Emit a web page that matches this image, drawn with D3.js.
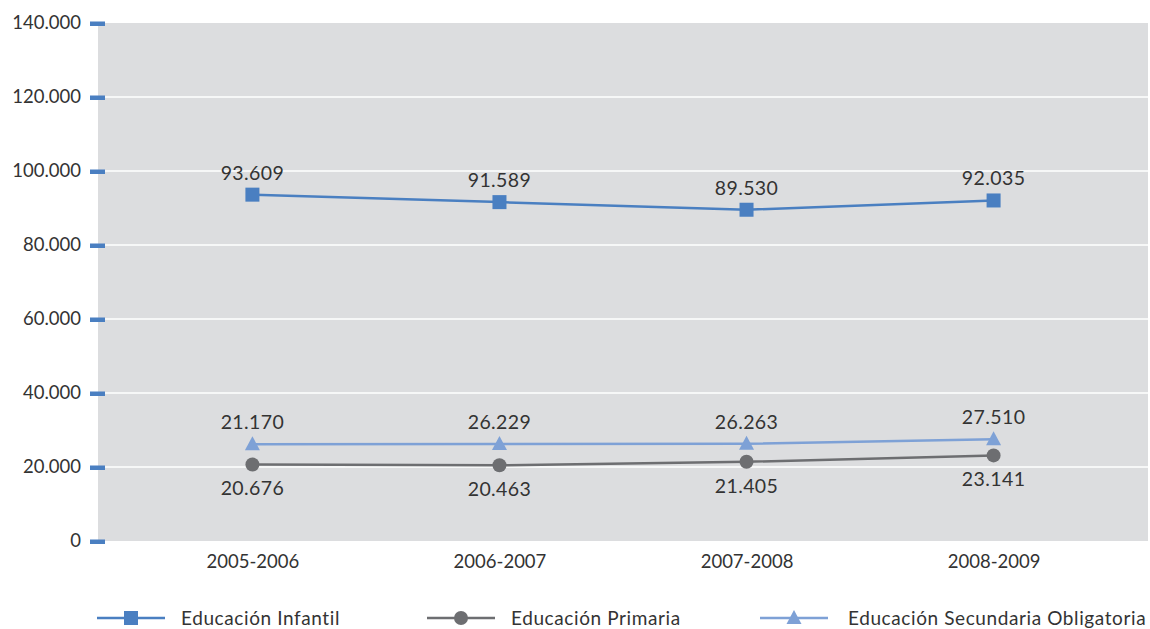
<!DOCTYPE html>
<html><head><meta charset="utf-8">
<script src="https://cdn.jsdelivr.net/npm/d3@7"></script>
<style>body{margin:0;background:#fff}svg text{font-family:Lato,"Noto Sans",sans-serif;fill:#333}</style>
</head><body><svg id="c" width="1150" height="629"></svg>
<script>
const categories = ["2005-2006","2006-2007","2007-2008","2008-2009"];
const infantil = [93609, 91589, 89530, 92035];
const primaria = [20676, 20463, 21405, 23141];
const secundaria = [26170, 26229, 26263, 27510];
const infantilLabels = ["93.609","91.589","89.530","92.035"];
const primariaLabels = ["20.676","20.463","21.405","23.141"];
const secundariaLabels = ["21.170","26.229","26.263","27.510"];
const yTicks = [0,20000,40000,60000,80000,100000,120000,140000];
const seriesNames = ["Educación Infantil","Educación Primaria","Educación Secundaria Obligatoria"];

const svg = d3.select("#c");
const L=98,R=1148,T=23,B=541;
const x = d3.scalePoint().domain(categories).range([L,R]).padding(0.625);
const y = d3.scaleLinear().domain([0,140000]).range([B,T]);
const fmt = v => d3.format(",")(v).replace(/,/g,".");

svg.append("rect").attr("x",L).attr("y",T).attr("width",R-L).attr("height",B-T).attr("fill","#dcdddf");
svg.selectAll(".g").data(yTicks.slice(1,-1)).join("line")
  .attr("x1",L).attr("x2",R).attr("y1",d=>y(d)).attr("y2",d=>y(d)).attr("stroke","#fff").attr("stroke-width",1.5);

const yAxis = svg.append("g").attr("transform",`translate(${L},0)`)
  .call(d3.axisLeft(y).tickValues(yTicks).tickFormat(fmt).tickSize(0).tickPadding(17));
yAxis.select(".domain").remove();
yAxis.selectAll("text").attr("font-size",18.5).attr("fill","#333").style("font-family","Lato");
yAxis.selectAll(".tick").append("rect").attr("x",-8).attr("y",-2).attr("width",15).attr("height",4.5).attr("fill","#4a7fc1");

const xAxis = svg.append("g").attr("transform",`translate(0,${B})`)
  .call(d3.axisBottom(x).tickSize(0).tickPadding(14));
xAxis.select(".domain").remove();
xAxis.selectAll("text").attr("font-size",18.5).attr("fill","#333").style("font-family","Lato");

const series = [
  {name:seriesNames[0], vals:infantil, labels:infantilLabels, color:"#4a7fc1", shape:"square", above:true},
  {name:seriesNames[1], vals:primaria, labels:primariaLabels, color:"#6d6e71", shape:"circle", above:false},
  {name:seriesNames[2], vals:secundaria, labels:secundariaLabels, color:"#7ea1d6", shape:"triangle", above:true}
];
function marker(g, shape, color, cx, cy){
  if(shape==="square") g.append("rect").attr("x",cx-7).attr("y",cy-7).attr("width",14).attr("height",14).attr("fill",color);
  else if(shape==="circle") g.append("circle").attr("cx",cx).attr("cy",cy).attr("r",7).attr("fill",color);
  else g.append("path").attr("d",`M${cx},${cy-8}L${cx+7.5},${cy+6}L${cx-7.5},${cy+6}Z`).attr("fill",color);
}
const line = d3.line().x((d,i)=>x(categories[i])).y(d=>y(d));
series.forEach(s=>{
  svg.append("path").attr("d",line(s.vals)).attr("fill","none").attr("stroke",s.color).attr("stroke-width",2.5);
  const g = svg.append("g");
  s.vals.forEach((v,i)=>{
    marker(g,s.shape,s.color,x(categories[i]),y(v));
    g.append("text").attr("x",x(categories[i])).attr("y",y(v)+(s.above?-15:31))
      .attr("text-anchor","middle").attr("font-size",19.5).attr("letter-spacing",0.4).text(s.labels[i]);
  });
});

const legendPos = [{x:97,tx:181},{x:427,tx:511},{x:760,tx:848}];
const ly = 618;
series.forEach((s,i)=>{
  const p = legendPos[i];
  const g = svg.append("g");
  g.append("line").attr("x1",p.x).attr("x2",p.x+68).attr("y1",ly).attr("y2",ly).attr("stroke",s.color).attr("stroke-width",2.5);
  marker(g,s.shape,s.color,p.x+34,ly);
  g.append("text").attr("x",p.tx).attr("y",ly+6.5).attr("font-size",19).attr("letter-spacing",0.6).text(s.name);
});
</script></body></html>
